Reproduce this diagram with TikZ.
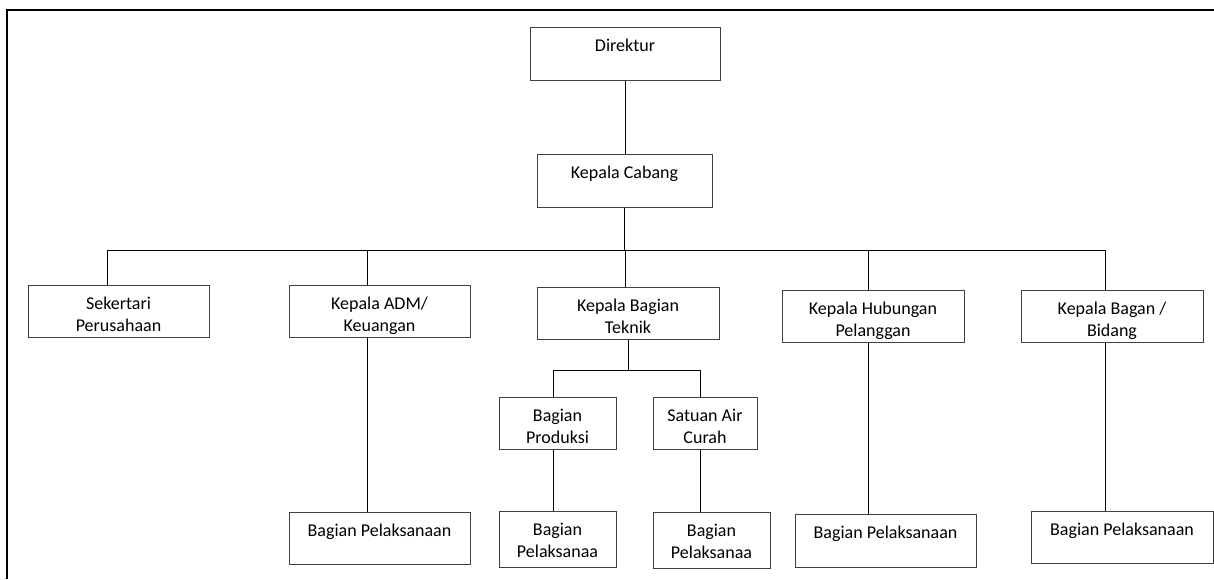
\documentclass[tikz,border=0pt]{standalone}
\usepackage{fontspec}
\setmainfont{Carlito}
\tikzset{
  box/.style={draw=black!75, line width=1pt, inner sep=0pt, align=center,
    text height=24pt, text depth=29pt, anchor=north},
  twobox/.style={box, text height=46pt, text depth=6pt},
  link/.style={line width=1pt}
}
\begin{document}
\begin{tikzpicture}[x=1pt,y=-1pt,font=\fontsize{18}{22}\selectfont]
\useasboundingbox (0,0) rectangle (1214,579);
\draw[line width=2pt] (1214,10) -- (7,10) -- (7,579);

\node[box, minimum width=190pt] (direktur) at (625,27) {Direktur};
\node[box, minimum width=175pt] (cabang) at (624.5,154) {Kepala Cabang};

\node[twobox, minimum width=181pt] (sekretari) at (118.5,285) {Sekertari\\Perusahaan};
\node[twobox, minimum width=181pt] (adm) at (379.5,285) {Kepala ADM/\\Keuangan};
\node[twobox, minimum width=182pt] (teknik) at (628,287) {Kepala Bagian\\Teknik};
\node[twobox, minimum width=182pt] (hubungan) at (873,290) {Kepala Hubungan\\Pelanggan};
\node[twobox, minimum width=182pt] (bidang) at (1112,290) {Kepala Bagan /\\Bidang};

\node[twobox, minimum width=117pt] (produksi) at (557.5,397) {Bagian\\Produksi};
\node[twobox, minimum width=104pt] (airCurah) at (705,397) {Satuan Air\\Curah};

\node[box, minimum width=181pt, text depth=28pt] (pelADM) at (379.5,512) {Bagian Pelaksanaan};
\node[twobox, minimum width=117pt, text depth=10pt] (pelProduksi) at (557.5,511) {Bagian\\Pelaksanaa};
\node[twobox, minimum width=117pt, text depth=10pt] (pelAir) at (711.5,512) {Bagian\\Pelaksanaa};
\node[box, minimum width=181pt] (pelHubungan) at (885.5,514) {Bagian Pelaksanaan};
\node[box, minimum width=182pt, text depth=28pt] (pelBidang) at (1122,511) {Bagian Pelaksanaan};

% top of the tree
\draw[link] (direktur.south) -- (direktur.south |- cabang.north);
\foreach \x/\n in {107/sekretari, 367/adm, 625/teknik, 868/hubungan, 1105/bidang}{
  \coordinate (bus-\n) at (\x,250);
  \draw[link] (bus-\n) -- (bus-\n |- \n.north);
}
\draw[link] (bus-sekretari) -- (bus-bidang);
\draw[link] (cabang.south) -- (cabang.south |- bus-teknik);

% down to the Pelaksanaan boxes
\draw[link] (adm.south -| bus-adm) -- (pelADM.north -| bus-adm);
\draw[link] (hubungan.south -| bus-hubungan) -- (pelHubungan.north -| bus-hubungan);
\draw[link] (bidang.south -| bus-bidang) -- (pelBidang.north -| bus-bidang);

% Teknik branch
\coordinate (subL) at (553,370);
\coordinate (subR) at (700,370);
\draw[link] (teknik.south) -- (teknik.south |- subL);
\draw[link] (subL) -- (subR);
\draw[link] (subL) -- (subL |- produksi.north);
\draw[link] (subR) -- (subR |- airCurah.north);
\draw[link] (produksi.south -| subL) -- (pelProduksi.north -| subL);
\draw[link] (airCurah.south -| subR) -- (pelAir.north -| subR);
\end{tikzpicture}
\end{document}
